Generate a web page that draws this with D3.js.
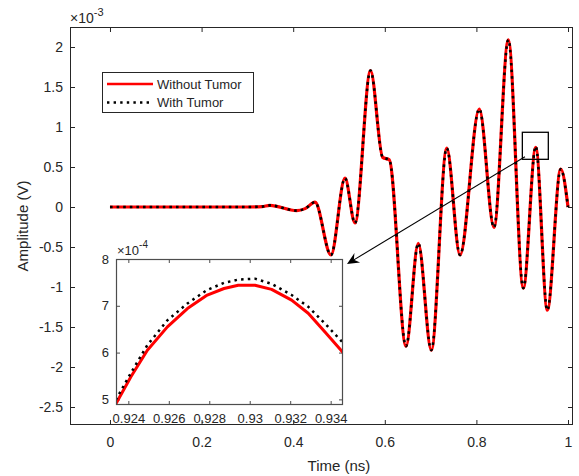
<!DOCTYPE html>
<html>
<head>
<meta charset="utf-8">
<script src="https://cdn.jsdelivr.net/npm/d3@7/dist/d3.min.js"></script>
<style>
  html, body { margin: 0; padding: 0; background: #fff; }
  svg { display: block; font-family: "Liberation Sans", Arial, Helvetica, sans-serif; }
  text { fill: #262626; }
</style>
</head>
<body>
<script>
// ---------------- DATA ----------------
// Main plot: time (ns) and amplitude in units of 1e-3 V
const timeMain = [0, 0.1, 0.2, 0.3, 0.332, 0.349, 0.4076, 0.426, 0.4476, 0.4825, 0.5131, 0.5349, 0.5688,
  0.5954, 0.6098, 0.6463, 0.6731, 0.7016, 0.7352, 0.7642, 0.8063, 0.8384, 0.8697, 0.9024, 0.9296,
  0.9548, 0.9841, 1.0];
const ampWithoutMain = [0, 0, 0, 0, 0.005, 0.02, -0.045, -0.02, 0.06, -0.6, 0.36, -0.2, 1.705,
  0.62, 0.59, -1.74, -0.455, -1.79, 0.735, -0.6, 1.225, -0.255, 2.09, -1.015, 0.745,
  -1.29, 0.475, 0];
const ampWithMain = [0, 0, 0, 0, 0.005, 0.02, -0.045, -0.02, 0.06, -0.6, 0.36, -0.2, 1.705,
  0.62, 0.59, -1.74, -0.455, -1.79, 0.735, -0.6, 1.225, -0.255, 2.09, -1.015, 0.758,
  -1.29, 0.475, 0];

// Inset (zoom): time (ns) and amplitude in units of 1e-4 V
const timeInset = [0.92338, 0.92412, 0.92494, 0.92593, 0.92692, 0.9279, 0.92873, 0.92943, 0.93026,
  0.93108, 0.93207, 0.93289, 0.93372, 0.93461];
const ampWithoutInset = [4.90, 5.48, 6.05, 6.55, 6.94, 7.23, 7.37, 7.44, 7.44, 7.35, 7.12, 6.84, 6.44, 6.00];
const ampWithInset = [4.99, 5.56, 6.16, 6.69, 7.05, 7.34, 7.49, 7.56, 7.58, 7.47, 7.23, 6.98, 6.62, 6.21];

const seriesNames = ["Without Tumor", "With Tumor"];
const xTicksMain = [0, 0.2, 0.4, 0.6, 0.8, 1];
const xTickLabelsMain = ["0", "0.2", "0.4", "0.6", "0.8", "1"];
const yTicksMain = [-2.5, -2, -1.5, -1, -0.5, 0, 0.5, 1, 1.5, 2];
const yTickLabelsMain = ["-2.5", "-2", "-1.5", "-1", "-0.5", "0", "0.5", "1", "1.5", "2"];
const xTicksInset = [0.924, 0.926, 0.928, 0.93, 0.932, 0.934];
const xTickLabelsInset = ["0.924", "0.926", "0.928", "0.93", "0.932", "0.934"];
const yTicksInset = [5, 6, 7, 8];
const yTickLabelsInset = ["5", "6", "7", "8"];

// zoom box (data units of main axes) and arrow start
const zoomBox = {t0: 0.9003, t1: 0.957, a0: 0.596, a1: 0.934};
const arrowFrom = {t: 0.906, a: 0.629};

// ---------------- CHART ----------------
const W = 579, H = 476;
const svg = d3.select("body").append("svg").attr("width", W).attr("height", H);
const axisColor = "#262626";

const M = {l: 70, r: 573, t: 27, b: 425};
const x = d3.scaleLinear().domain([-0.0873, 1.0109]).range([M.l, M.r]);
const y = d3.scaleLinear().domain([-2.725, 2.25]).range([M.b, M.t]);

svg.append("rect").attr("x", M.l).attr("y", M.t).attr("width", M.r - M.l).attr("height", M.b - M.t).attr("fill", "#fff");

const defs = svg.append("defs");
defs.append("clipPath").attr("id", "clipMain").append("rect")
  .attr("x", M.l).attr("y", M.t).attr("width", M.r - M.l).attr("height", M.b - M.t);

function styleAxis(g, color) {
  g.select(".domain").remove();
  g.selectAll(".tick line").attr("stroke", color).attr("stroke-width", 1);
  g.selectAll(".tick text").attr("fill", "#262626");
}

// Main axes
const fsMain = 14;
const gxB = svg.append("g").attr("transform", `translate(0,${M.b})`)
  .call(d3.axisBottom(x).tickValues(xTicksMain).tickFormat((d, i) => xTickLabelsMain[i]).tickSize(-5).tickPadding(12));
const gxT = svg.append("g").attr("transform", `translate(0,${M.t})`)
  .call(d3.axisTop(x).tickValues(xTicksMain).tickFormat("").tickSize(-5));
const gyL = svg.append("g").attr("transform", `translate(${M.l},0)`)
  .call(d3.axisLeft(y).tickValues(yTicksMain).tickFormat((d, i) => yTickLabelsMain[i]).tickSize(-5).tickPadding(7));
const gyR = svg.append("g").attr("transform", `translate(${M.r},0)`)
  .call(d3.axisRight(y).tickValues(yTicksMain).tickFormat("").tickSize(-5));
[gxB, gxT, gyL, gyR].forEach(g => {
  styleAxis(g, axisColor);
  g.selectAll("text").attr("font-size", fsMain).attr("font-family", null);
});

// Lines
const lineMain = (vals) => d3.line().x((d, i) => x(timeMain[i])).y(d => y(d)).curve(d3.curveMonotoneX)(vals);
const gMain = svg.append("g").attr("clip-path", "url(#clipMain)");
gMain.append("path").attr("d", lineMain(ampWithoutMain)).attr("fill", "none")
  .attr("stroke", "#ff0000").attr("stroke-width", 3.2).attr("stroke-linejoin", "round");
gMain.append("path").attr("d", lineMain(ampWithMain)).attr("fill", "none")
  .attr("stroke", "#000").attr("stroke-width", 2.6).attr("stroke-dasharray", "2.6,4");

// box frame
svg.append("rect").attr("x", M.l + 0.5).attr("y", M.t + 0.5).attr("width", M.r - M.l - 1).attr("height", M.b - M.t - 1)
  .attr("fill", "none").attr("stroke", axisColor).attr("stroke-width", 1);

// exponent label
const ex = svg.append("text").attr("x", M.l).attr("y", 23).attr("font-size", fsMain);
ex.append("tspan").text("\u00d710");
ex.append("tspan").attr("dy", -7).attr("font-size", 11).text("-3");

// axis labels
svg.append("text").attr("x", (x(0) + x(1)) / 2).attr("y", 471).attr("text-anchor", "middle")
  .attr("font-size", 15).text("Time (ns)");
svg.append("text").attr("transform", `translate(28,${(M.t + M.b) / 2}) rotate(-90)`).attr("text-anchor", "middle")
  .attr("font-size", 15).text("Amplitude (V)");

// zoom box
svg.append("rect").attr("x", x(zoomBox.t0)).attr("y", y(zoomBox.a1))
  .attr("width", x(zoomBox.t1) - x(zoomBox.t0)).attr("height", y(zoomBox.a0) - y(zoomBox.a1))
  .attr("fill", "none").attr("stroke", "#000").attr("stroke-width", 1.3);

// Legend
const leg = svg.append("g");
leg.append("rect").attr("x", 102.5).attr("y", 72.5).attr("width", 151).attr("height", 40)
  .attr("fill", "#fff").attr("stroke", "#262626").attr("stroke-width", 1);
[0, 1].forEach(i => {
  const yy = 84 + i * 18.5;
  const ln = leg.append("line").attr("x1", 107).attr("x2", 153).attr("y1", yy).attr("y2", yy);
  if (i === 0) ln.attr("stroke", "#ff0000").attr("stroke-width", 2.4);
  else ln.attr("stroke", "#000").attr("stroke-width", 2.4).attr("stroke-dasharray", "2.4,4.2");
  leg.append("text").attr("x", 157).attr("y", yy).attr("dy", "0.36em").attr("font-size", 13).text(seriesNames[i]);
});

// ---------------- INSET ----------------
const I = {l: 116, r: 343, t: 259, b: 405};
const xi = d3.scaleLinear().domain([0.92339, 0.93461]).range([I.l, I.r]);
const yi = d3.scaleLinear().domain([4.88, 8]).range([I.b, I.t]);
defs.append("clipPath").attr("id", "clipInset").append("rect")
  .attr("x", I.l).attr("y", I.t).attr("width", I.r - I.l).attr("height", I.b - I.t);

svg.append("rect").attr("x", I.l).attr("y", I.t).attr("width", I.r - I.l).attr("height", I.b - I.t).attr("fill", "#fff");

const insetColor = "#4d4d4d";
const fsInset = 13;
const ixB = svg.append("g").attr("transform", `translate(0,${I.b})`)
  .call(d3.axisBottom(xi).tickValues(xTicksInset).tickFormat((d, i) => xTickLabelsInset[i]).tickSize(-4).tickPadding(9));
const ixT = svg.append("g").attr("transform", `translate(0,${I.t})`)
  .call(d3.axisTop(xi).tickValues(xTicksInset).tickFormat("").tickSize(-4));
const iyL = svg.append("g").attr("transform", `translate(${I.l},0)`)
  .call(d3.axisLeft(yi).tickValues(yTicksInset).tickFormat((d, i) => yTickLabelsInset[i]).tickSize(-4).tickPadding(7));
const iyR = svg.append("g").attr("transform", `translate(${I.r},0)`)
  .call(d3.axisRight(yi).tickValues(yTicksInset).tickFormat("").tickSize(-4));
[ixB, ixT, iyL, iyR].forEach(g => {
  styleAxis(g, insetColor);
  g.selectAll("text").attr("font-size", fsInset).attr("font-family", null);
});

const lineInset = (vals) => d3.line().x((d, i) => xi(timeInset[i])).y(d => yi(d))(vals);
const gIn = svg.append("g").attr("clip-path", "url(#clipInset)");
gIn.append("path").attr("d", lineInset(ampWithoutInset)).attr("fill", "none")
  .attr("stroke", "#ff0000").attr("stroke-width", 3).attr("stroke-linejoin", "round");
gIn.append("path").attr("d", lineInset(ampWithInset)).attr("fill", "none")
  .attr("stroke", "#000").attr("stroke-width", 2.5).attr("stroke-dasharray", "2.5,4.2");

svg.append("rect").attr("x", I.l + 0.5).attr("y", I.t + 0.5).attr("width", I.r - I.l - 1).attr("height", I.b - I.t - 1)
  .attr("fill", "none").attr("stroke", insetColor).attr("stroke-width", 1.2);

const exi = svg.append("text").attr("x", I.l + 1).attr("y", I.t - 4).attr("font-size", fsInset);
exi.append("tspan").text("\u00d710");
exi.append("tspan").attr("dy", -7).attr("font-size", 10).text("-4");

// ---------------- ARROW ----------------
const ax1 = x(arrowFrom.t), ay1 = y(arrowFrom.a);
const ax2 = I.r + 4, ay2 = I.t + 5;
const ang = Math.atan2(ay2 - ay1, ax2 - ax1);
svg.append("line").attr("x1", ax1).attr("y1", ay1)
  .attr("x2", ax2 - 8 * Math.cos(ang)).attr("y2", ay2 - 8 * Math.sin(ang))
  .attr("stroke", "#000").attr("stroke-width", 1.1);
// arrow head (vback2 style)
const L = 12, Wd = 5.5, back = 8;
const p = (dx, dy) => [ax2 + dx * Math.cos(ang) - dy * Math.sin(ang), ay2 + dx * Math.sin(ang) + dy * Math.cos(ang)];
const head = [p(0, 0), p(-L, -Wd), p(-back, 0), p(-L, Wd)];
svg.append("path").attr("d", d3.line()(head) + "Z").attr("fill", "#000");
</script>
</body>
</html>
